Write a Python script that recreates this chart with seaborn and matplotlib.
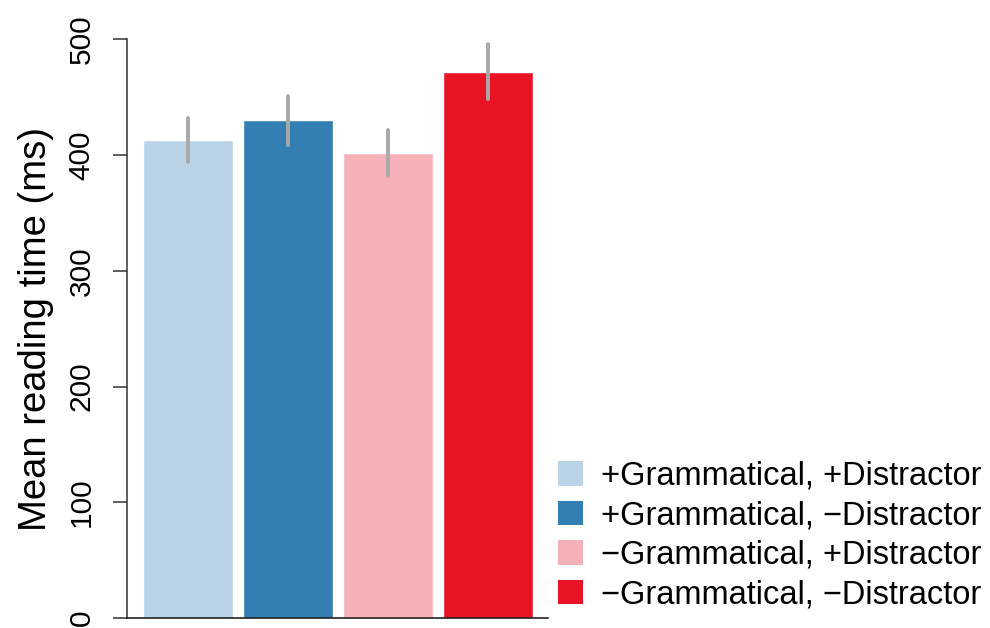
import matplotlib
matplotlib.use("Agg")
import matplotlib.pyplot as plt
from matplotlib.patches import Patch
import seaborn as sns
import pandas as pd

# Condition labels, mean reading times (ms) and error-bar half widths
conditions = [
    "+Grammatical, +Distractor",
    "+Grammatical, \u2212Distractor",
    "\u2212Grammatical, +Distractor",
    "\u2212Grammatical, \u2212Distractor",
]
mean_rt = [413, 430, 402, 472]
rt_err = [19, 21, 20, 24]
bar_colors = ["#BBD3E6", "#337FB3", "#F6B1B8", "#E81426"]
y_ticks = [0, 100, 200, 300, 400, 500]

sns.set_style("white")
plt.rcParams["font.family"] = ["Liberation Sans", "DejaVu Sans"]
plt.rcParams["text.color"] = "black"
plt.rcParams["axes.labelcolor"] = "black"
plt.rcParams["ytick.color"] = "#333333"
plt.rcParams["ytick.labelcolor"] = "black"

df = pd.DataFrame({"condition": conditions, "rt": mean_rt})

fig = plt.figure(figsize=(9.9, 6.28), dpi=100)
ax = fig.add_axes([127 / 990, 10 / 628, 421 / 990, 578.7 / 628])

sns.barplot(data=df, x="condition", y="rt", hue="condition",
            palette=bar_colors, order=conditions, hue_order=conditions,
            width=0.893, saturation=1, legend=False, ax=ax)

eb = ax.errorbar(range(len(conditions)), mean_rt, yerr=rt_err, fmt="none",
                 ecolor="#A9A9A9", elinewidth=2.8, capsize=0, zorder=5)
for lc in eb.lines[2]:
    lc.set_capstyle("round")

ax.set_xlim(-0.61, 3.6)
ax.set_ylim(0, 500)
ax.set_yticks(y_ticks)
ax.set_xticks([])
ax.set_xlabel("")
ax.set_ylabel("Mean reading time (ms)", fontsize=27.5, labelpad=10)

ax.tick_params(axis="y", direction="out", length=10, width=1.1,
               labelsize=21.5, pad=12.5, labelrotation=90, left=True)
for lbl in ax.get_yticklabels():
    lbl.set_va("center")

for side in ("top", "right"):
    ax.spines[side].set_visible(False)
ax.spines["left"].set_bounds(0, 500)
ax.spines["left"].set_color("#333333")
ax.spines["left"].set_linewidth(1.1)
ax.spines["bottom"].set_color("#111111")
ax.spines["bottom"].set_linewidth(1.1)

handles = [Patch(facecolor=c, edgecolor="none") for c in bar_colors]
fig.legend(handles, conditions, loc="lower left",
           bbox_to_anchor=(548 / 990, 8 / 628), frameon=False,
           fontsize=23.5, handlelength=0.77, handleheight=0.77,
           handletextpad=0.55, labelspacing=0.26, borderaxespad=0,
           borderpad=0.3)

fig.savefig("out.png", dpi=100)
